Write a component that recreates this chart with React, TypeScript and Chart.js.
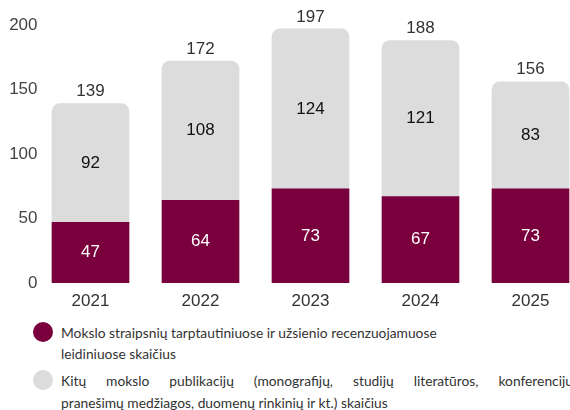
import React, { useEffect, useRef } from "react";
import { Chart, registerables } from "chart.js";

Chart.register(...registerables);

const years = ["2021", "2022", "2023", "2024", "2025"];
const articles = [47, 64, 73, 67, 73];
const otherPubs = [92, 108, 124, 121, 83];
const totals = [139, 172, 197, 188, 156];
const yTicks = [0, 50, 100, 150, 200];

const legendArticles = "Mokslo straipsnių tarptautiniuose ir užsienio recenzuojamuose";
const legendArticles2 = "leidiniuose skaičius";
const legendOther = "Kitų mokslo publikacijų (monografijų, studijų literatūros, konferencijų";
const legendOther2 = "pranešimų medžiagos, duomenų rinkinių ir kt.) skaičius";

const MAROON = "#79003c";
const GRAY = "#dcdcdc";

const labelPlugin = {
  id: "barLabels",
  afterDatasetsDraw(chart: any) {
    const ctx = chart.ctx;
    ctx.save();
    ctx.textAlign = "center";
    ctx.textBaseline = "middle";
    ctx.font = "17px 'Liberation Sans', Arial, sans-serif";
    const m0 = chart.getDatasetMeta(0);
    const m1 = chart.getDatasetMeta(1);
    m0.data.forEach((bar: any, i: number) => {
      ctx.fillStyle = "#ffffff";
      ctx.fillText(String(articles[i]), bar.x, (bar.y + bar.base) / 2);
    });
    m1.data.forEach((bar: any, i: number) => {
      ctx.fillStyle = "#111111";
      ctx.fillText(String(otherPubs[i]), bar.x, (bar.y + bar.base) / 2);
      ctx.fillStyle = "#333333";
      ctx.fillText(String(totals[i]), bar.x, bar.y - 12);
    });
    ctx.restore();
  },
};

export default function App() {
  const ref = useRef<HTMLCanvasElement>(null);
  useEffect(() => {
    if (!ref.current) return;
    const chart = new Chart(ref.current, {
      type: "bar",
      data: {
        datasets: [
          {
            data: articles.map((v, i) => ({ x: i, y: v })),
            backgroundColor: MAROON,
            borderRadius: 0,
            borderSkipped: false,
            barThickness: 77,
          },
          {
            data: otherPubs.map((v, i) => ({ x: i, y: v })),
            backgroundColor: GRAY,
            borderRadius: { topLeft: 8, topRight: 8, bottomLeft: 0, bottomRight: 0 },
            borderSkipped: false,
            barThickness: 77,
          },
        ],
      },
      options: {
        animation: false,
        responsive: false,
        maintainAspectRatio: false,
        layout: { padding: { top: 25, left: 0, right: 0, bottom: 7 } },
        plugins: { legend: { display: false }, tooltip: { enabled: false } },
        scales: {
          x: {
            type: "linear",
            stacked: true,
            min: -0.46818,
            max: 4.35909,
            offset: false,
            grid: { display: false, drawTicks: false },
            border: { display: false },
            afterBuildTicks: (s: any) => {
              s.ticks = years.map((_, i) => ({ value: i }));
            },
            ticks: {
              color: "#333333",
              font: { family: "'Liberation Sans', Arial, sans-serif", size: 17 },
              padding: 8,
              maxRotation: 0,
              autoSkip: false,
              callback: (v: any) => years[Number(v)] ?? "",
            },
            afterFit: (s: any) => {
              s.height = 30;
            },
          },
          y: {
            stacked: true,
            min: 0,
            max: 200,
            grid: { display: false, drawTicks: false },
            border: { display: false },
            afterBuildTicks: (s: any) => {
              s.ticks = yTicks.map((v) => ({ value: v }));
            },
            ticks: {
              color: "#444444",
              font: { family: "'Liberation Sans', Arial, sans-serif", size: 17 },
              padding: 1.5,
            },
            afterFit: (s: any) => {
              s.width = 39;
            },
          },
        },
      },
      plugins: [labelPlugin],
    });
    return () => chart.destroy();
  }, []);

  const textStyle: React.CSSProperties = {
    position: "absolute",
    left: 61,
    fontFamily: "Lato, sans-serif",
    fontSize: 13.8,
    color: "#333333",
    lineHeight: "21px",
    whiteSpace: "nowrap",
  };
  const dot = (color: string, top: number): React.CSSProperties => ({
    position: "absolute",
    left: 33,
    top,
    width: 20,
    height: 20,
    borderRadius: "50%",
    background: color,
  });

  return (
    <div
      style={{
        position: "fixed",
        left: 0,
        top: 0,
        width: 570,
        height: 410,
        overflow: "hidden",
        background: "#ffffff",
      }}
    >
      <canvas ref={ref} width={570} height={320} style={{ position: "absolute", left: 0, top: 0, width: 570, height: 320 }} />
      <div style={dot(MAROON, 322)} />
      <div style={{ ...textStyle, top: 321.5 }}>{legendArticles}</div>
      <div style={{ ...textStyle, top: 342.5 }}>{legendArticles2}</div>
      <div style={dot(GRAY, 370)} />
      <div
        style={{
          ...textStyle,
          top: 369.5,
          width: 512,
          whiteSpace: "normal",
          textAlign: "justify",
          textAlignLast: "justify",
        }}
      >
        {legendOther}
      </div>
      <div style={{ ...textStyle, top: 391.5 }}>{legendOther2}</div>
    </div>
  );
}
